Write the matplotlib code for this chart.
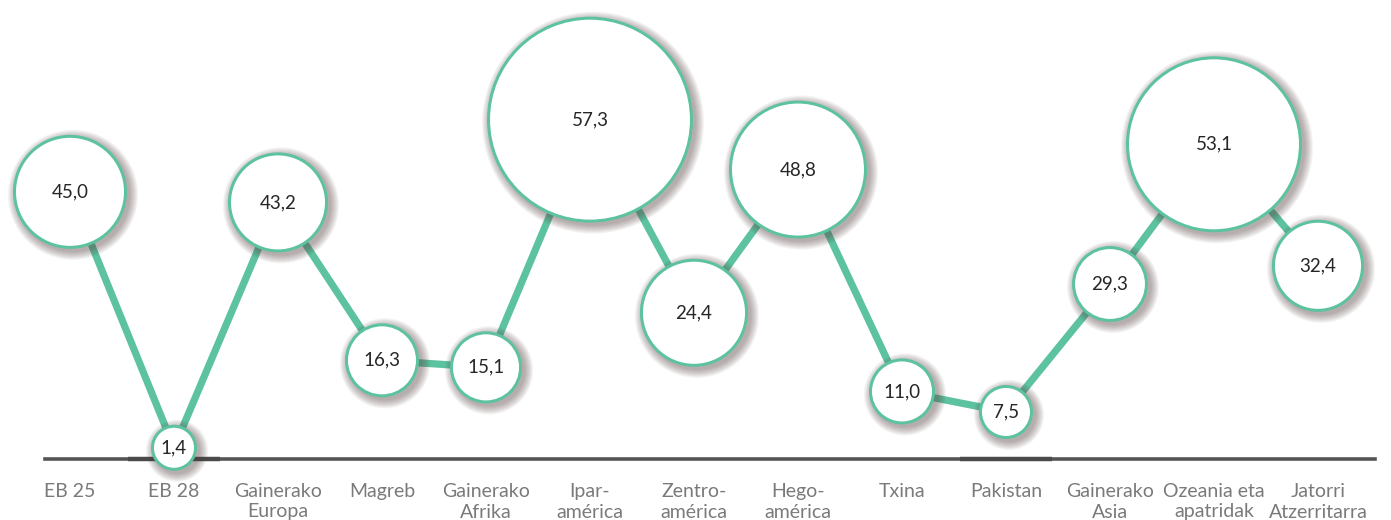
import numpy as np
import matplotlib
matplotlib.use("Agg")
import matplotlib.pyplot as plt
from matplotlib import transforms

# ---- data ----
categories = ["EB 25", "EB 28", "Gainerako\nEuropa", "Magreb", "Gainerako\nAfrika",
              "Ipar-\namérica", "Zentro-\namérica", "Hego-\namérica", "Txina",
              "Pakistan", "Gainerako\nAsia", "Ozeania eta\napatridak",
              "Jatorri\nAtzerritarra"]
values = [45.0, 1.4, 43.2, 16.3, 15.1, 57.3, 24.4, 48.8, 11.0, 7.5, 29.3, 53.1, 32.4]
# relative bubble weight (area units)
bubble_weight = [32.5, 5.3, 25.0, 13.7, 13.0, 106.0, 29.2, 47.6, 10.9, 7.3, 14.4, 77.4, 21.2]

# ---- style ----
GREEN = "#5cc2a0"
plt.rcParams['font.family'] = ['Lato', 'DejaVu Sans']

W, H, DPI = 1391, 520, 100
fig = plt.figure(figsize=(W / DPI, H / DPI), dpi=DPI)
ax = fig.add_axes([0, 0, 1, 1])
ax.set_axis_off()

x = np.arange(len(categories))
step_px = 104.0
x0_px = 70.0
ax.set_xlim(-x0_px / step_px, (W - x0_px) / step_px)
zero_px, per_unit = 456.0, 5.87
ax.set_ylim(-(H - zero_px) / per_unit, zero_px / per_unit)

# baseline
ax.axhline(-0.43, xmin=45 / W, xmax=1375 / W, color="#555555", lw=2.6, zorder=1)
for idx in (1, 9):
    ax.plot([idx - 0.44, idx + 0.44], [-0.5, -0.5], color="#4a4a4a", lw=3.2,
            solid_capstyle='butt', zorder=1.1)

# connecting line
ax.plot(x, values, color=GREEN, lw=5.2, zorder=2, solid_capstyle='butt')

# bubble sizes
r_px = 10 * np.sqrt(np.array(bubble_weight))
edge_px = 3.0
pt = 72.0 / DPI

# shadows
shadow_tr = transforms.offset_copy(ax.transData, fig=fig, x=3, y=-3, units='dots')
for k in range(9):
    s = (2 * (r_px + k * 1.0) * pt) ** 2
    ax.scatter(x, values, s=s, color="#5a4444", alpha=0.06, lw=0,
               transform=shadow_tr, zorder=3)

# circles
s_main = (2 * (r_px - edge_px / 2) * pt) ** 2
ax.scatter(x, values, s=s_main, facecolor="white", edgecolor=GREEN,
           linewidths=edge_px * pt, zorder=4)

for xi, v in zip(x, values):
    ax.text(xi, v, f"{v:.1f}".replace('.', ','), ha='center', va='center',
            fontsize=13.5, color="#262626", zorder=5)

# category labels
label_y = -(483 - zero_px) / per_unit
for xi, c in zip(x, categories):
    ax.text(xi, label_y, c, ha='center', va='top', fontsize=14,
            color="#7a7a7a", linespacing=1.25, zorder=5)

fig.savefig("out.png", dpi=DPI, facecolor="white")
